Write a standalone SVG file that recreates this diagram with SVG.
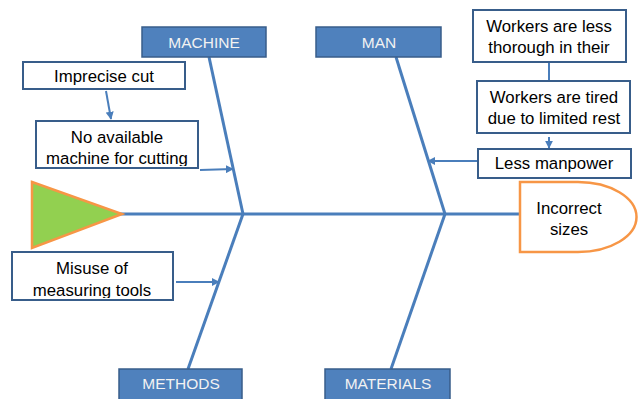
<svg xmlns="http://www.w3.org/2000/svg" width="640" height="399" viewBox="0 0 640 399">
<defs>
<marker id="ah" viewBox="0 0 10 10" refX="9" refY="5" markerWidth="4" markerHeight="4" orient="auto-start-reverse" markerUnits="strokeWidth"><path d="M0,0 L10,5 L0,10 z" fill="#4A7EBB"/></marker>
<clipPath id="c1"><rect x="36" y="121" width="162" height="45"/></clipPath>
<clipPath id="c2"><rect x="12" y="252" width="161" height="46"/></clipPath>
<clipPath id="c3"><rect x="473" y="10" width="153" height="50"/></clipPath>
</defs>
<style>
.cat{fill:#4F81BD;stroke:#385D8A;stroke-width:1.5}
.catt{font-family:"Liberation Sans",Arial,sans-serif;font-size:15.5px;fill:#F2F2F2;text-anchor:middle}
.box{fill:#fff;stroke:#385D8A;stroke-width:2}
.t{font-family:"Liberation Sans",Arial,sans-serif;font-size:16.8px;fill:#000;text-anchor:middle}
.bone{stroke:#4A7EBB;stroke-width:3;fill:none}
.arr{stroke:#4A7EBB;stroke-width:2;fill:none}
</style>
<rect width="640" height="399" fill="#fff"/>
<g id="connectors">
<line class="bone" x1="120" y1="214" x2="520" y2="214"/>
<line class="bone" x1="209" y1="57" x2="243" y2="214"/>
<line class="bone" x1="396" y1="57" x2="445" y2="214"/>
<line class="bone" x1="243" y1="214" x2="188" y2="369"/>
<line class="bone" x1="445" y1="214" x2="391" y2="369"/>
<line class="arr" x1="106" y1="91" x2="111" y2="119" marker-end="url(#ah)"/>
<line class="arr" x1="200" y1="170" x2="233" y2="169" marker-end="url(#ah)"/>
<line class="arr" x1="549" y1="62" x2="549" y2="81"/>
<line class="arr" x1="549" y1="137" x2="549" y2="148" marker-end="url(#ah)"/>
<line class="arr" x1="478" y1="161" x2="428" y2="161" marker-end="url(#ah)"/>
<line class="arr" x1="176" y1="282" x2="219" y2="282" marker-end="url(#ah)"/>
</g>
<g id="head"><polygon points="32,182 122,214 32,248" fill="#92D050" stroke="#F79646" stroke-width="2.5"/></g>
<g id="effect">
<path d="M520,182 H578 A58.5,35 0 0 1 578,252 H520 Z" fill="#fff" stroke="#F79646" stroke-width="2.5"/>
<text class="t" x="569" y="214">Incorrect</text>
<text class="t" x="569" y="235">sizes</text>
</g>
<g id="machine"><rect class="cat" x="142" y="27" width="124" height="30"/><text class="catt" x="204" y="48">MACHINE</text></g>
<g id="man"><rect class="cat" x="316" y="27" width="125" height="30"/><text class="catt" x="379" y="48">MAN</text></g>
<g id="methods"><rect class="cat" x="119" y="369" width="123" height="32"/><text class="catt" x="181" y="389">METHODS</text></g>
<g id="materials"><rect class="cat" x="325" y="369" width="125" height="32"/><text class="catt" x="388" y="389">MATERIALS</text></g>
<g id="imprecise"><rect class="box" x="23" y="62" width="162" height="27"/><text class="t" x="104" y="82">Imprecise cut</text></g>
<g id="noavail"><rect class="box" x="36" y="121" width="162" height="47"/><g clip-path="url(#c1)"><text class="t" x="117" y="143">No available</text><text class="t" x="117" y="164">machine for cutting</text></g></g>
<g id="misuse"><rect class="box" x="12" y="252" width="161" height="48"/><g clip-path="url(#c2)"><text class="t" x="92" y="274">Misuse of</text><text class="t" x="92" y="296">measuring tools</text></g></g>
<g id="lessthorough"><rect class="box" x="473" y="10" width="153" height="52"/><g clip-path="url(#c3)"><text class="t" x="549" y="32">Workers are less</text><text class="t" x="549" y="53">thorough in their</text></g></g>
<g id="tired"><rect class="box" x="477" y="81" width="153" height="52"/><text class="t" x="554" y="103">Workers are tired</text><text class="t" x="554" y="124">due to limited rest</text></g>
<g id="manpower"><rect class="box" x="478" y="149" width="153" height="29"/><text class="t" x="554" y="169">Less manpower</text></g>
</svg>
